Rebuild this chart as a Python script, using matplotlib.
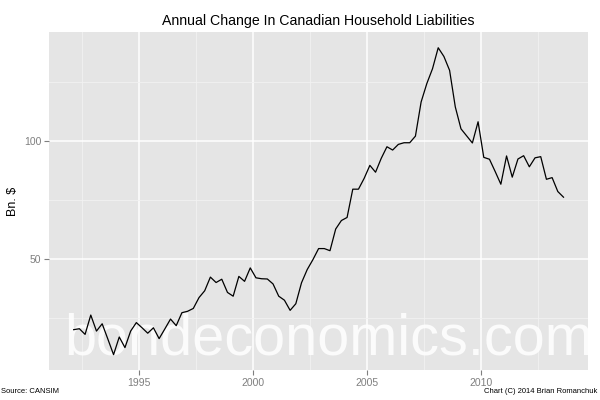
import numpy as np
import pandas as pd
from matplotlib import pyplot as plt

# quarterly observations, 1992Q1 .. 2013Q3 (plotted at mid-quarter)
quarters = pd.period_range('1992Q1', '2013Q3', freq='Q')
liab = [20.0, 20.4, 18.0, 26.2, 19.4, 22.5, 16.0, 9.4, 16.9, 12.4,
        19.4, 23.0, 20.8, 18.5, 20.8, 16.2, 20.3, 24.5, 21.7, 27.2,
        27.8, 29.0, 33.6, 36.5, 42.3, 40.0, 41.4, 35.8, 34.2, 42.6,
        40.5, 46.2, 42.0, 41.6, 41.5, 39.4, 34.2, 32.5, 28.2, 31.0,
        39.9, 45.5, 49.7, 54.4, 54.4, 53.5, 62.7, 66.3, 67.6, 79.6,
        79.6, 84.2, 89.7, 86.8, 92.7, 97.6, 96.2, 98.6, 99.3, 99.3,
        102.1, 116.6, 124.4, 130.7, 139.6, 135.9, 130.0, 114.5, 105.2, 102.2,
        99.2, 108.2, 93.1, 92.3, 87.1, 81.7, 93.7, 84.7, 92.4, 93.8,
        89.1, 92.9, 93.4, 83.8, 84.5, 78.6, 76.2]
x_major = [1995, 2000, 2005, 2010]
x_minor = [1992.5, 1997.5, 2002.5, 2007.5, 2012.5]
y_major = [50, 100]
y_minor = [25, 75, 125]

yrs = np.array([q.year + (q.quarter - 1) * 0.25 + 0.125 for q in quarters])
vals = np.array(liab)

plt.rcParams['font.family'] = ['Liberation Sans', 'DejaVu Sans']

fig = plt.figure(figsize=(6, 4), dpi=100)
ax = fig.add_axes([0.082, 0.075, 0.898, 0.844])
ax.set_facecolor('#e5e5e5')
for s in ax.spines.values():
    s.set_visible(False)

# ggplot style 5% expansion
xr = yrs.max() - yrs.min()
yr = vals.max() - vals.min()
ax.set_xlim(yrs.min() - 0.05 * xr, yrs.max() + 0.05 * xr)
ax.set_ylim(vals.min() - 0.05 * yr, vals.max() + 0.05 * yr)

ax.set_xticks(x_major)
ax.set_xticks(x_minor, minor=True)
ax.set_yticks(y_major)
ax.set_yticks(y_minor, minor=True)
ax.grid(which='major', color='white', lw=1.1)
ax.grid(which='minor', color='#f2f2f2', lw=0.6)
ax.set_axisbelow(True)
ax.tick_params(which='major', color='#7f7f7f', length=3.5, width=0.8,
               labelcolor='#7f7f7f', labelsize=7.5, pad=2)
ax.tick_params(which='minor', length=0)

# watermark
ax.text(0.5 * (ax.get_xlim()[0] + ax.get_xlim()[1]) + 0.45, 9.5, 'bondeconomics.com',
        fontsize=41.5, color='white', alpha=0.85, ha='center', va='baseline', zorder=1.5)

ax.plot(yrs, vals, color='black', lw=0.9, zorder=3)

ax.set_title('Annual Change In Canadian Household Liabilities', fontsize=10.2, pad=5)
ax.set_ylabel('Bn. $', fontsize=9, labelpad=4)

fig.text(0.002, 0.022, 'Source: CANSIM', fontsize=5.5, ha='left', va='center')
fig.text(0.995, 0.022, 'Chart (C) 2014 Brian Romanchuk', fontsize=5.5, ha='right', va='center')

fig.savefig('out.png', dpi=100)
